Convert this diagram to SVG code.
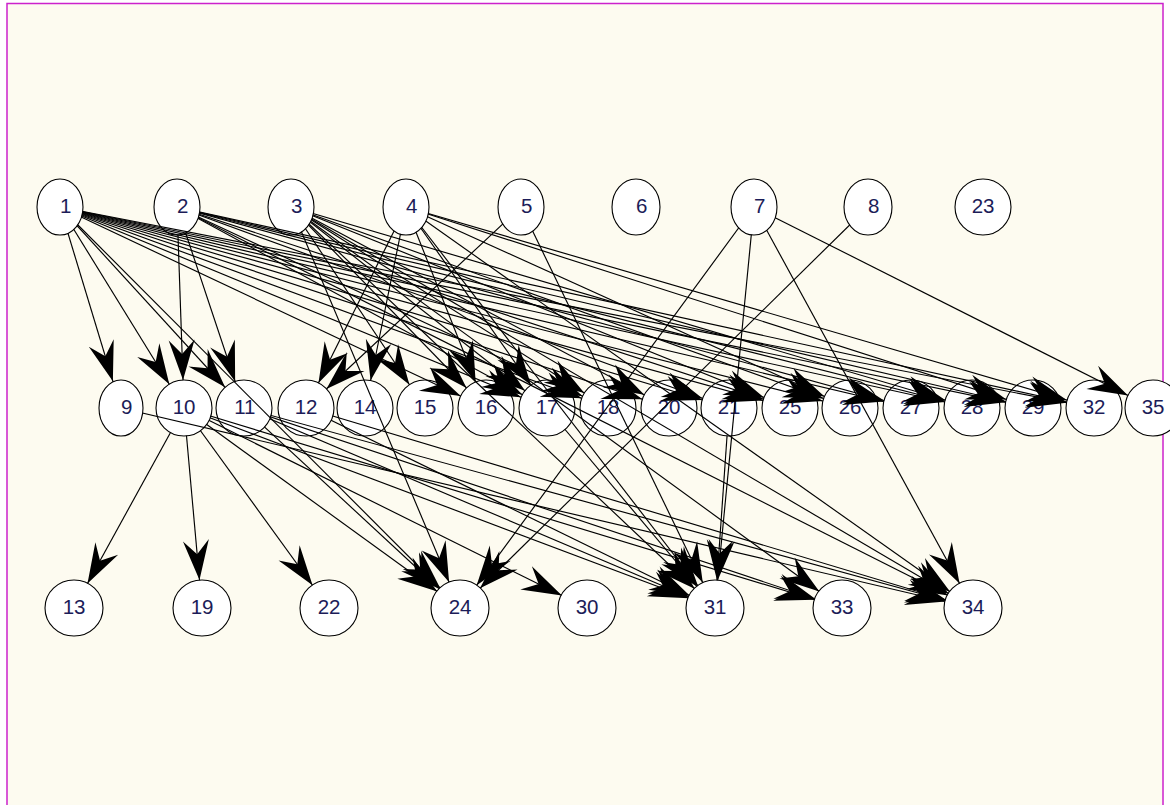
<svg xmlns="http://www.w3.org/2000/svg" xmlns:xlink="http://www.w3.org/1999/xlink" width="1170" height="805" viewBox="0 0 1170 805">
<style>
  .node ellipse { fill: #ffffff; stroke: #000000; stroke-width: 1.1; }
  .node text { font-family: "Liberation Sans", Arial, sans-serif; font-size: 20.5px; fill: #1c1c58; text-anchor: end; }
  .edges line { stroke: #000000; stroke-width: 1.15; fill: none; marker-end: url(#ah); }
</style>
<defs>
  <!-- barbed arrowhead; tip sits on the target circle (28px from its centre) -->
  <marker id="ah" markerUnits="userSpaceOnUse" orient="auto" overflow="visible" markerWidth="1" markerHeight="1" refX="0" refY="0">
    <path d="M-28,0 L-68,-13 L-54,0 L-68,13 Z" fill="#000000"/>
  </marker>
  <rect id="full" x="0" y="0" width="1170" height="805" fill="#ffffff"/>
  <!-- masks hide the part of each edge that lies inside its own end nodes -->
  <mask id="k1" maskUnits="userSpaceOnUse" x="0" y="0" width="1170" height="805"><use xlink:href="#full"/><ellipse cx="60" cy="207" rx="23" ry="28"/></mask>
  <mask id="k2" maskUnits="userSpaceOnUse" x="0" y="0" width="1170" height="805"><use xlink:href="#full"/><ellipse cx="177" cy="207" rx="23" ry="28"/></mask>
  <mask id="k3" maskUnits="userSpaceOnUse" x="0" y="0" width="1170" height="805"><use xlink:href="#full"/><ellipse cx="291" cy="207" rx="23" ry="28"/></mask>
  <mask id="k4" maskUnits="userSpaceOnUse" x="0" y="0" width="1170" height="805"><use xlink:href="#full"/><ellipse cx="406" cy="207" rx="23" ry="28"/></mask>
  <mask id="k5" maskUnits="userSpaceOnUse" x="0" y="0" width="1170" height="805"><use xlink:href="#full"/><ellipse cx="521" cy="207" rx="23" ry="28"/></mask>
  <mask id="k7" maskUnits="userSpaceOnUse" x="0" y="0" width="1170" height="805"><use xlink:href="#full"/><ellipse cx="754" cy="207" rx="23" ry="28"/></mask>
  <mask id="k8" maskUnits="userSpaceOnUse" x="0" y="0" width="1170" height="805"><use xlink:href="#full"/><ellipse cx="868" cy="207" rx="24" ry="28"/></mask>
  <mask id="k9" maskUnits="userSpaceOnUse" x="0" y="0" width="1170" height="805"><use xlink:href="#full"/><ellipse cx="121" cy="408" rx="22" ry="28"/></mask>
  <mask id="k10" maskUnits="userSpaceOnUse" x="0" y="0" width="1170" height="805"><use xlink:href="#full"/><ellipse cx="184" cy="408" rx="28" ry="28"/></mask>
  <mask id="k11" maskUnits="userSpaceOnUse" x="0" y="0" width="1170" height="805"><use xlink:href="#full"/><ellipse cx="244" cy="408" rx="28" ry="28"/></mask>
  <mask id="k12" maskUnits="userSpaceOnUse" x="0" y="0" width="1170" height="805"><use xlink:href="#full"/><ellipse cx="306" cy="408" rx="28" ry="28"/></mask>
  <mask id="k14" maskUnits="userSpaceOnUse" x="0" y="0" width="1170" height="805"><use xlink:href="#full"/><ellipse cx="365" cy="408" rx="28" ry="28"/></mask>
  <mask id="k15" maskUnits="userSpaceOnUse" x="0" y="0" width="1170" height="805"><use xlink:href="#full"/><ellipse cx="425" cy="408" rx="28" ry="28"/></mask>
  <mask id="k16" maskUnits="userSpaceOnUse" x="0" y="0" width="1170" height="805"><use xlink:href="#full"/><ellipse cx="486" cy="408" rx="28" ry="28"/></mask>
  <mask id="k17" maskUnits="userSpaceOnUse" x="0" y="0" width="1170" height="805"><use xlink:href="#full"/><ellipse cx="547" cy="408" rx="28" ry="28"/></mask>
  <mask id="k18" maskUnits="userSpaceOnUse" x="0" y="0" width="1170" height="805"><use xlink:href="#full"/><ellipse cx="608" cy="408" rx="28" ry="28"/></mask>
  <mask id="k20" maskUnits="userSpaceOnUse" x="0" y="0" width="1170" height="805"><use xlink:href="#full"/><ellipse cx="669" cy="408" rx="28" ry="28"/></mask>
  <mask id="k21" maskUnits="userSpaceOnUse" x="0" y="0" width="1170" height="805"><use xlink:href="#full"/><ellipse cx="729" cy="408" rx="28" ry="28"/></mask>
  <mask id="k25" maskUnits="userSpaceOnUse" x="0" y="0" width="1170" height="805"><use xlink:href="#full"/><ellipse cx="790" cy="408" rx="28" ry="28"/></mask>
  <mask id="k26" maskUnits="userSpaceOnUse" x="0" y="0" width="1170" height="805"><use xlink:href="#full"/><ellipse cx="850" cy="408" rx="28" ry="28"/></mask>
  <mask id="k27" maskUnits="userSpaceOnUse" x="0" y="0" width="1170" height="805"><use xlink:href="#full"/><ellipse cx="911" cy="408" rx="28" ry="28"/></mask>
  <mask id="k28" maskUnits="userSpaceOnUse" x="0" y="0" width="1170" height="805"><use xlink:href="#full"/><ellipse cx="972" cy="408" rx="28" ry="28"/></mask>
  <mask id="k29" maskUnits="userSpaceOnUse" x="0" y="0" width="1170" height="805"><use xlink:href="#full"/><ellipse cx="1033" cy="408" rx="28" ry="28"/></mask>
  <mask id="k32" maskUnits="userSpaceOnUse" x="0" y="0" width="1170" height="805"><use xlink:href="#full"/><ellipse cx="1094" cy="408" rx="28" ry="28"/></mask>
  <mask id="k35" maskUnits="userSpaceOnUse" x="0" y="0" width="1170" height="805"><use xlink:href="#full"/><ellipse cx="1153" cy="408" rx="28" ry="28"/></mask>
  <mask id="k13" maskUnits="userSpaceOnUse" x="0" y="0" width="1170" height="805"><use xlink:href="#full"/><ellipse cx="74" cy="608" rx="29" ry="28"/></mask>
  <mask id="k19" maskUnits="userSpaceOnUse" x="0" y="0" width="1170" height="805"><use xlink:href="#full"/><ellipse cx="202" cy="608" rx="29" ry="28"/></mask>
  <mask id="k22" maskUnits="userSpaceOnUse" x="0" y="0" width="1170" height="805"><use xlink:href="#full"/><ellipse cx="329" cy="608" rx="29" ry="28"/></mask>
  <mask id="k24" maskUnits="userSpaceOnUse" x="0" y="0" width="1170" height="805"><use xlink:href="#full"/><ellipse cx="460" cy="608" rx="29" ry="28"/></mask>
  <mask id="k30" maskUnits="userSpaceOnUse" x="0" y="0" width="1170" height="805"><use xlink:href="#full"/><ellipse cx="587" cy="608" rx="29" ry="28"/></mask>
  <mask id="k31" maskUnits="userSpaceOnUse" x="0" y="0" width="1170" height="805"><use xlink:href="#full"/><ellipse cx="715" cy="608" rx="29" ry="28"/></mask>
  <mask id="k33" maskUnits="userSpaceOnUse" x="0" y="0" width="1170" height="805"><use xlink:href="#full"/><ellipse cx="842" cy="608" rx="29" ry="28"/></mask>
  <mask id="k34" maskUnits="userSpaceOnUse" x="0" y="0" width="1170" height="805"><use xlink:href="#full"/><ellipse cx="973" cy="608" rx="29" ry="28"/></mask>
</defs>

<!-- page and drawing panel -->
<rect x="0" y="0" width="1170" height="805" fill="#ffffff"/>
<rect x="7" y="3.5" width="1156" height="820" fill="#fdfbf0" stroke="#cc22cc" stroke-width="1.5"/>

<!-- nodes -->
<g id="nodes">
  <g id="n1" class="node"><ellipse cx="60" cy="207" rx="23" ry="28"/><text x="71.5" y="212.5">1</text></g>
  <g id="n2" class="node"><ellipse cx="177" cy="207" rx="23" ry="28"/><text x="188.5" y="212.5">2</text></g>
  <g id="n3" class="node"><ellipse cx="291" cy="207" rx="23" ry="28"/><text x="302.5" y="212.5">3</text></g>
  <g id="n4" class="node"><ellipse cx="406" cy="207" rx="23" ry="28"/><text x="417.5" y="212.5">4</text></g>
  <g id="n5" class="node"><ellipse cx="521" cy="207" rx="23" ry="28"/><text x="532.5" y="212.5">5</text></g>
  <g id="n6" class="node"><ellipse cx="636" cy="207" rx="24" ry="28"/><text x="647.5" y="212.5">6</text></g>
  <g id="n7" class="node"><ellipse cx="754" cy="207" rx="23" ry="28"/><text x="765.5" y="212.5">7</text></g>
  <g id="n8" class="node"><ellipse cx="868" cy="207" rx="24" ry="28"/><text x="879.5" y="212.5">8</text></g>
  <g id="n23" class="node"><ellipse cx="983" cy="207" rx="28" ry="28"/><text x="994.5" y="212.5">23</text></g>

  <g id="n9" class="node"><ellipse cx="121" cy="408" rx="22" ry="28"/><text x="132.5" y="413.5">9</text></g>
  <g id="n10" class="node"><ellipse cx="184" cy="408" rx="28" ry="28"/><text x="195.5" y="413.5">10</text></g>
  <g id="n11" class="node"><ellipse cx="244" cy="408" rx="28" ry="28"/><text x="255.5" y="413.5">11</text></g>
  <g id="n12" class="node"><ellipse cx="306" cy="408" rx="28" ry="28"/><text x="317.5" y="413.5">12</text></g>
  <g id="n14" class="node"><ellipse cx="365" cy="408" rx="28" ry="28"/><text x="376.5" y="413.5">14</text></g>
  <g id="n15" class="node"><ellipse cx="425" cy="408" rx="28" ry="28"/><text x="436.5" y="413.5">15</text></g>
  <g id="n16" class="node"><ellipse cx="486" cy="408" rx="28" ry="28"/><text x="497.5" y="413.5">16</text></g>
  <g id="n17" class="node"><ellipse cx="547" cy="408" rx="28" ry="28"/><text x="558.5" y="413.5">17</text></g>
  <g id="n18" class="node"><ellipse cx="608" cy="408" rx="28" ry="28"/><text x="619.5" y="413.5">18</text></g>
  <g id="n20" class="node"><ellipse cx="669" cy="408" rx="28" ry="28"/><text x="680.5" y="413.5">20</text></g>
  <g id="n21" class="node"><ellipse cx="729" cy="408" rx="28" ry="28"/><text x="740.5" y="413.5">21</text></g>
  <g id="n25" class="node"><ellipse cx="790" cy="408" rx="28" ry="28"/><text x="801.5" y="413.5">25</text></g>
  <g id="n26" class="node"><ellipse cx="850" cy="408" rx="28" ry="28"/><text x="861.5" y="413.5">26</text></g>
  <g id="n27" class="node"><ellipse cx="911" cy="408" rx="28" ry="28"/><text x="922.5" y="413.5">27</text></g>
  <g id="n28" class="node"><ellipse cx="972" cy="408" rx="28" ry="28"/><text x="983.5" y="413.5">28</text></g>
  <g id="n29" class="node"><ellipse cx="1033" cy="408" rx="28" ry="28"/><text x="1044.5" y="413.5">29</text></g>
  <g id="n32" class="node"><ellipse cx="1094" cy="408" rx="28" ry="28"/><text x="1105.5" y="413.5">32</text></g>
  <g id="n35" class="node"><ellipse cx="1153" cy="408" rx="28" ry="28"/><text x="1164.5" y="413.5">35</text></g>

  <g id="n13" class="node"><ellipse cx="74" cy="608" rx="29" ry="28"/><text x="85.5" y="613.5">13</text></g>
  <g id="n19" class="node"><ellipse cx="202" cy="608" rx="29" ry="28"/><text x="213.5" y="613.5">19</text></g>
  <g id="n22" class="node"><ellipse cx="329" cy="608" rx="29" ry="28"/><text x="340.5" y="613.5">22</text></g>
  <g id="n24" class="node"><ellipse cx="460" cy="608" rx="29" ry="28"/><text x="471.5" y="613.5">24</text></g>
  <g id="n30" class="node"><ellipse cx="587" cy="608" rx="29" ry="28"/><text x="598.5" y="613.5">30</text></g>
  <g id="n31" class="node"><ellipse cx="715" cy="608" rx="29" ry="28"/><text x="726.5" y="613.5">31</text></g>
  <g id="n33" class="node"><ellipse cx="842" cy="608" rx="29" ry="28"/><text x="853.5" y="613.5">33</text></g>
  <g id="n34" class="node"><ellipse cx="973" cy="608" rx="29" ry="28"/><text x="984.5" y="613.5">34</text></g>
</g>

<!-- connectors: centre to centre, trimmed at both end nodes by masks -->
<g id="edges" class="edges">
  <g mask="url(#k1)">
    <line x1="60" y1="207" x2="121" y2="408" mask="url(#k9)"/>
    <line x1="60" y1="207" x2="184" y2="408" mask="url(#k10)"/>
    <line x1="60" y1="207" x2="244" y2="408" mask="url(#k11)"/>
    <line x1="60" y1="207" x2="460" y2="608" mask="url(#k24)"/>
    <line x1="60" y1="207" x2="486" y2="408" mask="url(#k16)"/>
    <line x1="60" y1="207" x2="547" y2="408" mask="url(#k17)"/>
    <line x1="60" y1="207" x2="608" y2="408" mask="url(#k18)"/>
    <line x1="60" y1="207" x2="669" y2="408" mask="url(#k20)"/>
    <line x1="60" y1="207" x2="729" y2="408" mask="url(#k21)"/>
    <line x1="60" y1="207" x2="790" y2="408" mask="url(#k25)"/>
    <line x1="60" y1="207" x2="850" y2="408" mask="url(#k26)"/>
    <line x1="60" y1="207" x2="911" y2="408" mask="url(#k27)"/>
    <line x1="60" y1="207" x2="972" y2="408" mask="url(#k28)"/>
    <line x1="60" y1="207" x2="1033" y2="408" mask="url(#k29)"/>
    <line x1="60" y1="207" x2="1094" y2="408" mask="url(#k32)"/>
  </g>
  <g mask="url(#k2)">
    <line x1="177" y1="207" x2="184" y2="408" mask="url(#k10)"/>
    <line x1="177" y1="207" x2="244" y2="408" mask="url(#k11)"/>
    <line x1="177" y1="207" x2="547" y2="408" mask="url(#k17)"/>
    <line x1="177" y1="207" x2="608" y2="408" mask="url(#k18)"/>
    <line x1="177" y1="207" x2="729" y2="408" mask="url(#k21)"/>
    <line x1="177" y1="207" x2="790" y2="408" mask="url(#k25)"/>
    <line x1="177" y1="207" x2="911" y2="408" mask="url(#k27)"/>
    <line x1="177" y1="207" x2="972" y2="408" mask="url(#k28)"/>
    <line x1="177" y1="207" x2="1033" y2="408" mask="url(#k29)"/>
    <line x1="177" y1="207" x2="1094" y2="408" mask="url(#k32)"/>
    <line x1="177" y1="207" x2="973" y2="608" mask="url(#k34)"/>
  </g>
  <g mask="url(#k3)">
    <line x1="291" y1="207" x2="425" y2="408" mask="url(#k15)"/>
    <line x1="291" y1="207" x2="486" y2="408" mask="url(#k16)"/>
    <line x1="291" y1="207" x2="547" y2="408" mask="url(#k17)"/>
    <line x1="291" y1="207" x2="608" y2="408" mask="url(#k18)"/>
    <line x1="291" y1="207" x2="669" y2="408" mask="url(#k20)"/>
    <line x1="291" y1="207" x2="790" y2="408" mask="url(#k25)"/>
    <line x1="291" y1="207" x2="850" y2="408" mask="url(#k26)"/>
    <line x1="291" y1="207" x2="972" y2="408" mask="url(#k28)"/>
    <line x1="291" y1="207" x2="460" y2="608" mask="url(#k24)"/>
    <line x1="291" y1="207" x2="715" y2="608" mask="url(#k31)"/>
    <line x1="291" y1="207" x2="842" y2="608" mask="url(#k33)"/>
    <line x1="291" y1="207" x2="973" y2="608" mask="url(#k34)"/>
  </g>
  <g mask="url(#k4)">
    <line x1="406" y1="207" x2="306" y2="408" mask="url(#k12)"/>
    <line x1="406" y1="207" x2="365" y2="408" mask="url(#k14)"/>
    <line x1="406" y1="207" x2="486" y2="408" mask="url(#k16)"/>
    <line x1="406" y1="207" x2="547" y2="408" mask="url(#k17)"/>
    <line x1="406" y1="207" x2="850" y2="408" mask="url(#k26)"/>
    <line x1="406" y1="207" x2="1033" y2="408" mask="url(#k29)"/>
    <line x1="406" y1="207" x2="1094" y2="408" mask="url(#k32)"/>
    <line x1="406" y1="207" x2="715" y2="608" mask="url(#k31)"/>
    <line x1="406" y1="207" x2="973" y2="608" mask="url(#k34)"/>
  </g>
  <g mask="url(#k5)">
    <line x1="521" y1="207" x2="306" y2="408" mask="url(#k12)"/>
    <line x1="521" y1="207" x2="715" y2="608" mask="url(#k31)"/>
  </g>
  <g mask="url(#k7)">
    <line x1="754" y1="207" x2="460" y2="608" mask="url(#k24)"/>
    <line x1="754" y1="207" x2="715" y2="608" mask="url(#k31)"/>
    <line x1="754" y1="207" x2="973" y2="608" mask="url(#k34)"/>
    <line x1="754" y1="207" x2="1153" y2="408" mask="url(#k35)"/>
  </g>
  <g mask="url(#k8)">
    <line x1="868" y1="207" x2="460" y2="608" mask="url(#k24)"/>
  </g>
  <g mask="url(#k9)">
    <line x1="121" y1="408" x2="973" y2="608" mask="url(#k34)"/>
  </g>
  <g mask="url(#k10)">
    <line x1="184" y1="408" x2="74" y2="608" mask="url(#k13)"/>
    <line x1="184" y1="408" x2="202" y2="608" mask="url(#k19)"/>
    <line x1="184" y1="408" x2="329" y2="608" mask="url(#k22)"/>
    <line x1="184" y1="408" x2="460" y2="608" mask="url(#k24)"/>
    <line x1="184" y1="408" x2="587" y2="608" mask="url(#k30)"/>
    <line x1="184" y1="408" x2="715" y2="608" mask="url(#k31)"/>
    <line x1="184" y1="408" x2="842" y2="608" mask="url(#k33)"/>
  </g>
  <g mask="url(#k11)">
    <line x1="244" y1="408" x2="460" y2="608" mask="url(#k24)"/>
    <line x1="244" y1="408" x2="715" y2="608" mask="url(#k31)"/>
    <line x1="244" y1="408" x2="842" y2="608" mask="url(#k33)"/>
    <line x1="244" y1="408" x2="973" y2="608" mask="url(#k34)"/>
  </g>
  <g mask="url(#k12)">
    <line x1="306" y1="408" x2="715" y2="608" mask="url(#k31)"/>
    <line x1="306" y1="408" x2="973" y2="608" mask="url(#k34)"/>
  </g>
  <g mask="url(#k17)">
    <line x1="547" y1="408" x2="715" y2="608" mask="url(#k31)"/>
  </g>
  <g mask="url(#k21)">
    <line x1="729" y1="408" x2="715" y2="608" mask="url(#k31)"/>
  </g>
</g>
</svg>
